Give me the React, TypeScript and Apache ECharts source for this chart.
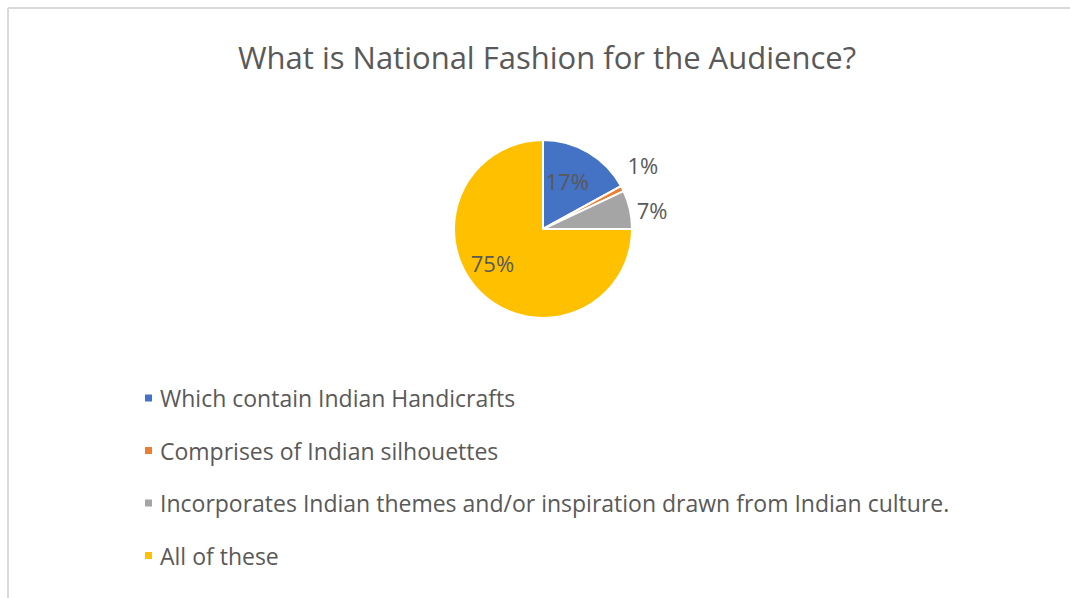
import React, { useEffect, useRef } from "react";
import * as echarts from "echarts";

const titleText = "What is National Fashion for the Audience?";
const categories = [
  "Which contain Indian Handicrafts",
  "Comprises of Indian silhouettes",
  "Incorporates Indian themes and/or inspiration drawn from Indian culture.",
  "All of these",
];
const values = [17, 1, 7, 75];
const colors = ["#4472C4", "#ED7D31", "#A5A5A5", "#FFC000"];
const labelPositions = ["inside", "outside", "outside", "inside"];

const FONT = "'Open Sans', 'Noto Sans', sans-serif";
const TEXT_COLOR = "#595959";

export default function App() {
  const ref = useRef<HTMLDivElement>(null);
  useEffect(() => {
    if (!ref.current) return;
    const chart = echarts.init(ref.current, undefined, { renderer: "svg" });
    const layoutAdjust: Record<number, { dx: number; dy: number }> = {
      0: { dx: 0, dy: -7 },
      1: { dx: -7, dy: -20 },
      2: { dx: -6, dy: 2 },
      3: { dx: -17, dy: 0 },
    };
    chart.setOption({
      animation: false,
      backgroundColor: "#ffffff",
      title: {
        text: titleText,
        left: 542,
        textAlign: "center",
        top: 36,
        textStyle: {
          fontFamily: FONT,
          fontSize: 31,
          fontWeight: "normal",
          color: TEXT_COLOR,
        },
      },
      legend: {
        orient: "vertical",
        left: 138,
        top: 381.5,
        itemWidth: 9,
        itemHeight: 9,
        itemGap: 29.5,
        icon: "rect",
        data: categories,
        textStyle: {
          fontFamily: FONT,
          fontSize: 23,
          color: TEXT_COLOR,
          padding: [0, 0, 0, 2],
        },
      },
      graphic: [
        {
          type: "line",
          shape: { x1: 8, y1: 8, x2: 1070, y2: 8 },
          style: { stroke: "#d9d9d9", lineWidth: 2 },
          silent: true,
        },
        {
          type: "line",
          shape: { x1: 8, y1: 8, x2: 8, y2: 598 },
          style: { stroke: "#d9d9d9", lineWidth: 2 },
          silent: true,
        },
      ],
      series: [
        {
          type: "pie",
          center: [543, 229],
          radius: 89,
          startAngle: 90,
          clockwise: true,
          avoidLabelOverlap: false,
          itemStyle: { borderColor: "#ffffff", borderWidth: 2 },
          labelLine: { show: false, length: 8, length2: 0 },
          labelLayout: (p: any) => layoutAdjust[p.dataIndex] || {},
          data: categories.map((name, i) => ({
            name,
            value: values[i],
            itemStyle: { color: colors[i] },
            label: {
              show: true,
              position: labelPositions[i],
              formatter: "{d}%",
              fontFamily: FONT,
              fontSize: 22,
              color: TEXT_COLOR,
            },
          })),
        },
      ],
    });
    return () => chart.dispose();
  }, []);
  return (
    <div
      ref={ref}
      style={{ position: "absolute", left: 0, top: 0, width: 1070, height: 598 }}
    />
  );
}
